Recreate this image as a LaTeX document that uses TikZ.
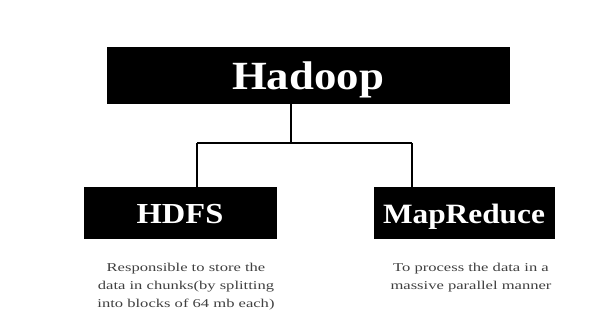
\documentclass[tikz,border=0pt]{standalone}
\usepackage{fontspec}
\setmainfont{Liberation Serif}
\newfontfamily\boxfont[FakeStretch=1.12]{Liberation Serif}
\newfontfamily\descfont[FakeStretch=1.38]{Liberation Serif}
\begin{document}
\begin{tikzpicture}[x=1pt,y=1pt,
  blackbox/.style={fill=black,draw=black,inner sep=0pt,text=white},
  desc/.style={align=center,text=black!75,font=\descfont\fontsize{12}{18}\selectfont},
  conn/.style={line width=2pt,black}]
\useasboundingbox (0,0) rectangle (595,327);
\node[blackbox,minimum width=402pt,minimum height=56pt,font=\boxfont\bfseries\fontsize{40}{44}\selectfont] (hadoop) at (308,252) {\raisebox{-15pt}[0pt][0pt]{Hadoop}};
\node[blackbox,minimum width=192pt,minimum height=51pt,font=\boxfont\bfseries\fontsize{29}{34}\selectfont] (hdfs) at (180,114.5) {\raisebox{-11pt}[0pt][0pt]{HDFS}};
\node[blackbox,minimum width=180pt,minimum height=51pt,font=\boxfont\bfseries\fontsize{28}{34}\selectfont] (mr) at (464,114.5) {\raisebox{-11pt}[0pt][0pt]{MapReduce}};
\coordinate (j) at (291,184);
\coordinate (jl) at (197,184);
\coordinate (jr) at (412,184);
\draw[conn] (hadoop.south -| j) -- (j);
\draw[conn] (jl) -- (jr);
\draw[conn] (jl) -- (hdfs.north -| jl);
\draw[conn] (jr) -- (mr.north -| jr);
\node[desc] (hdesc) at (186,40) {Responsible to store the\\data in chunks(by splitting\\into blocks of 64 mb each)};
\node[desc] (mdesc) at (471,49) {To process the data in a\\massive parallel manner};
\end{tikzpicture}
\end{document}
